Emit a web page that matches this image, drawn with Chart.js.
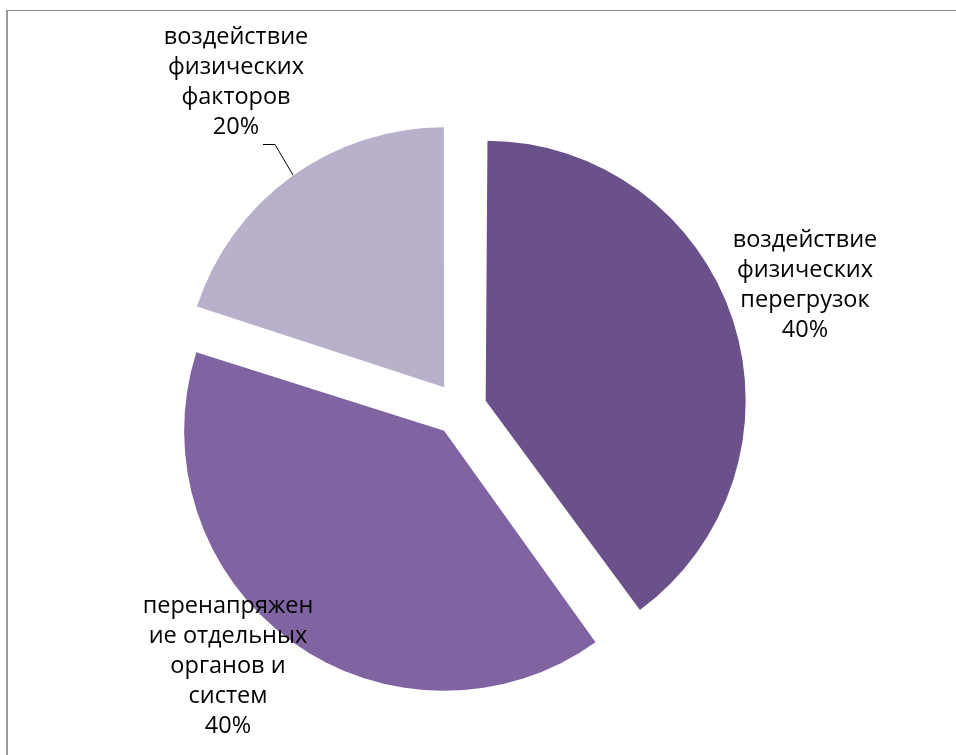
<!DOCTYPE html>
<html lang="ru">
<head>
<meta charset="utf-8">
<title>Причины</title>
<script src="https://cdn.jsdelivr.net/npm/chart.js@4/dist/chart.umd.min.js"></script>
<style>
  html, body { margin: 0; padding: 0; background: #ffffff; }
  #wrap { position: relative; width: 956px; height: 755px; }
</style>
</head>
<body>
<div id="wrap"><canvas id="pie" width="956" height="755"></canvas></div>
<script>
// Slice names (each entry is already split into the lines shown in its label)
const categories = [
  ['воздействие', 'физических', 'перегрузок'],
  ['перенапряжен', 'ие отдельных', 'органов и', 'систем'],
  ['воздействие', 'физических', 'факторов']
];
// Share of each cause, %
const shares = [40, 40, 20];
const sliceColors = ['#6A5189', '#8064A2', '#B9B0CB'];

const PIE_RADIUS = 260;   // px
const EXPLODE = 27;       // px each slice is pulled out from the centre

// Label anchors: centre x and first baseline for each slice label
const labelBoxes = [
  { x: 805, y: 247 },
  { x: 228, y: 613 },
  { x: 236, y: 44 }
];
const LINE_H = 30;
const LABEL_FONT = '23.5px "Open Sans", "Noto Sans", sans-serif';

// Chart.js widens exploded arcs a little; keep all slices at the same radius
const evenRadius = {
  id: 'evenRadius',
  afterDatasetUpdate(chart, args) {
    args.meta.data.forEach(arc => {
      const off = (arc.options.offset || 0) / 4;
      const fix = 1 - Math.sin(Math.min(Math.PI, arc.circumference));
      arc.outerRadius = PIE_RADIUS - off * fix;
    });
  }
};

// Thin grey frame of the chart box
const frame = {
  id: 'frame',
  beforeDraw(chart) {
    const c = chart.ctx;
    c.save();
    c.fillStyle = '#9a9a9a';
    c.fillRect(6, 10, 2, chart.height - 10);
    c.fillStyle = '#8c8c8c';
    c.fillRect(6, 10, chart.width - 6, 1);
    c.restore();
  }
};

// Category name + percentage next to each slice
const sliceLabels = {
  id: 'sliceLabels',
  afterDatasetsDraw(chart) {
    const c = chart.ctx;
    const values = chart.data.datasets[0].data;
    c.save();
    c.font = LABEL_FONT;
    c.fillStyle = '#000000';
    c.textAlign = 'center';
    c.textBaseline = 'alphabetic';
    chart.data.labels.forEach((lines, i) => {
      const box = labelBoxes[i];
      const all = lines.concat([values[i] + '%']);
      all.forEach((t, k) => c.fillText(t, box.x, box.y + k * LINE_H));
    });
    // leader line of the small slice
    c.strokeStyle = '#000000';
    c.lineWidth = 1;
    c.beginPath();
    c.moveTo(263, 144.5);
    c.lineTo(275, 144.5);
    c.lineTo(293, 175);
    c.stroke();
    c.restore();
  }
};

new Chart(document.getElementById('pie'), {
  type: 'pie',
  data: {
    labels: categories,
    datasets: [{
      data: shares,
      backgroundColor: sliceColors,
      borderWidth: 0,
      offset: EXPLODE * 4,
      radius: PIE_RADIUS
    }]
  },
  options: {
    responsive: false,
    animation: false,
    events: [],
    layout: { padding: { top: 63, bottom: 0, left: 0, right: 36 } },
    plugins: {
      legend: { display: false },
      tooltip: { enabled: false }
    }
  },
  plugins: [evenRadius, frame, sliceLabels]
});
</script>
</body>
</html>
